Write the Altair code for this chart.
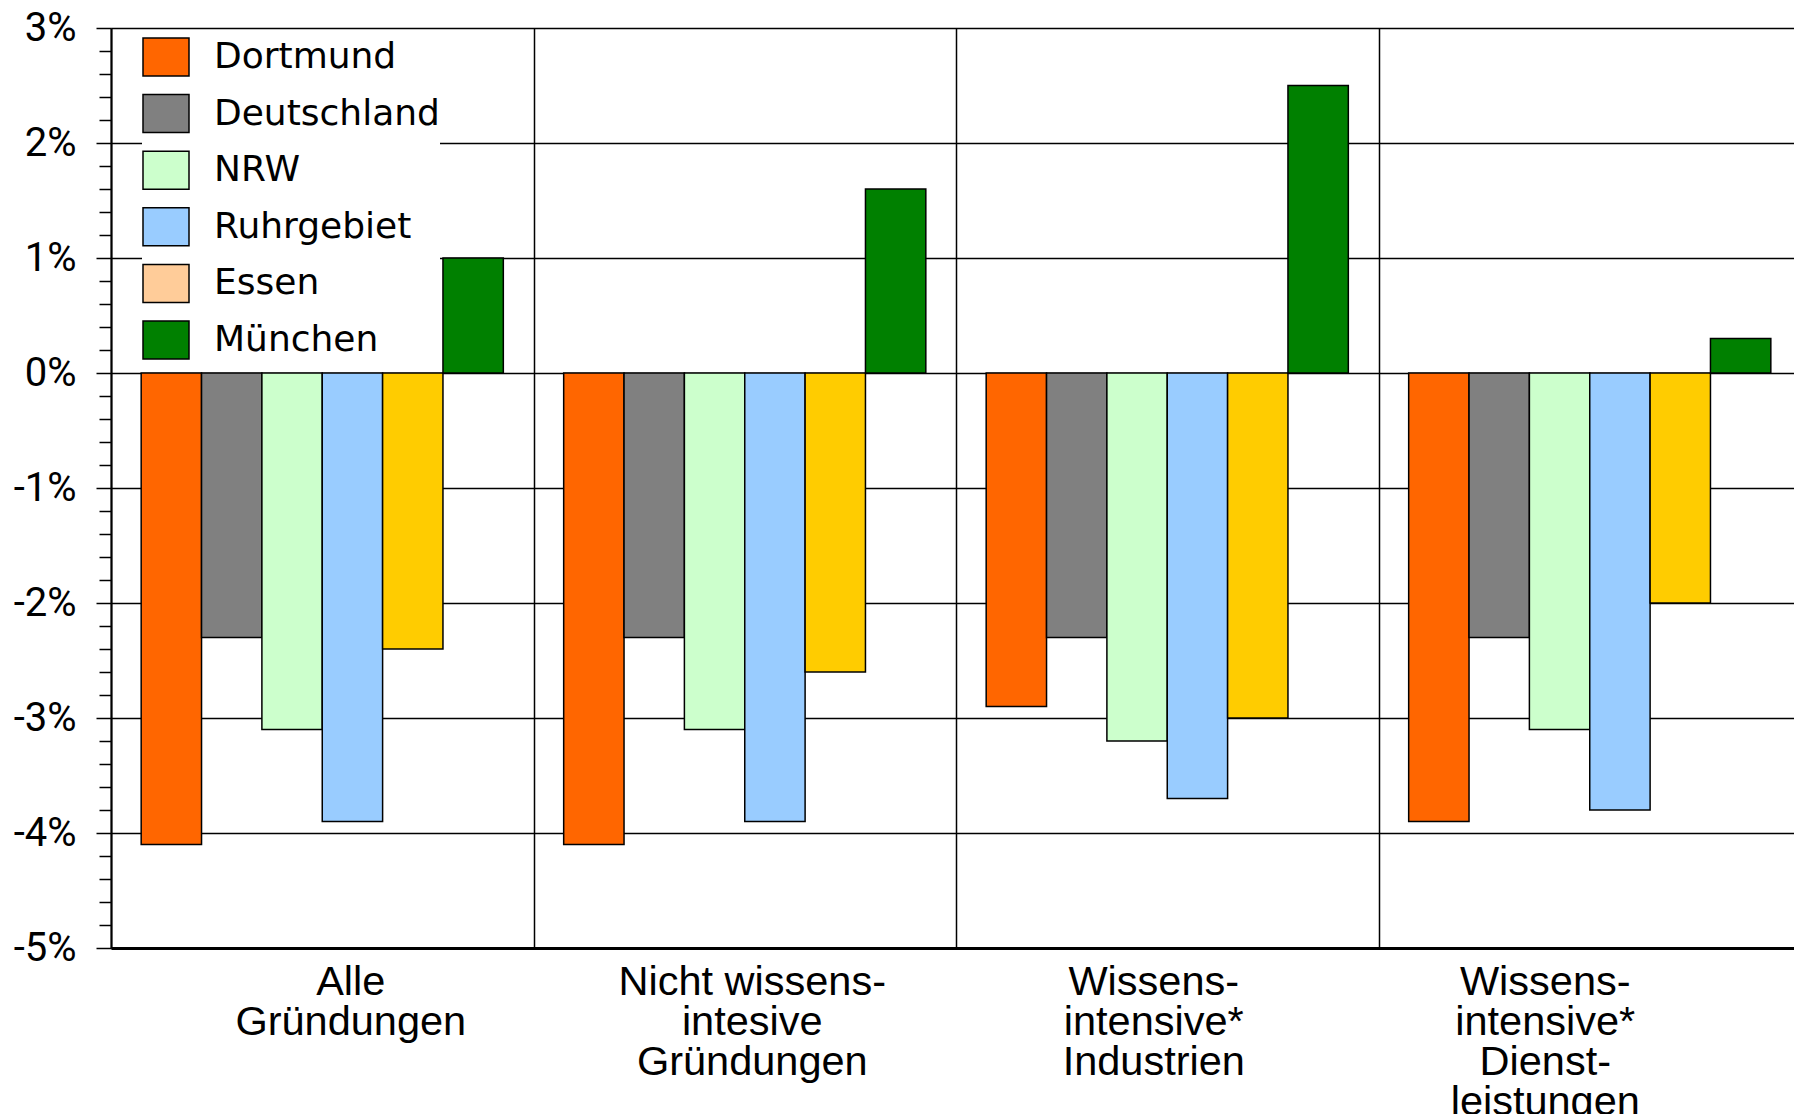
import altair as alt
import pandas as pd

# Categories (line breaks marked with "|") and the six regions compared
categories = [
    "Alle|Gründungen",
    "Nicht wissens-|intesive|Gründungen",
    "Wissens-|intensive*|Industrien",
    "Wissens-|intensive*|Dienst-|leistungen",
]
series = ["Dortmund", "Deutschland", "NRW", "Ruhrgebiet", "Essen", "München"]

# Change in start-ups, in percent, per category
dortmund = [-4.1, -4.1, -2.9, -3.9]
deutschland = [-2.3, -2.3, -2.3, -2.3]
nrw = [-3.1, -3.1, -3.2, -3.1]
ruhrgebiet = [-3.9, -3.9, -3.7, -3.8]
essen = [-2.4, -2.6, -3.0, -2.0]
muenchen = [1.0, 1.6, 2.5, 0.3]

bar_colors = ["#FF6600", "#808080", "#CCFFCC", "#99CCFF", "#FFCC00", "#008000"]
legend_colors = ["#FF6600", "#808080", "#CCFFCC", "#99CCFF", "#FFCC99", "#008000"]

values_by_series = [dortmund, deutschland, nrw, ruhrgebiet, essen, muenchen]
rows = []
for name, vals in zip(series, values_by_series):
    for cat, v in zip(categories, vals):
        rows.append({"category": cat, "series": name, "value": v})
df = pd.DataFrame(rows)

# horizontal nudges for the category labels
label_shift = {categories[0]: 28, categories[1]: 7, categories[2]: -14, categories[3]: -45}
label_offset = {
    "condition": [
        {"test": f"datum.value == '{c}'", "value": s} for c, s in label_shift.items()
    ],
    "value": 0,
}

major = "abs(datum.value - round(datum.value)) < 0.001"
y_ticks = [round(-5 + 0.2 * i, 1) for i in range(41)]

x_enc = alt.X(
    "category:N",
    sort=categories,
    scale=alt.Scale(paddingInner=0, paddingOuter=0),
    axis=alt.Axis(
        title=None,
        labelAngle=0,
        ticks=False,
        tickBand="extent",
        domain=True,
        domainColor="black",
        domainWidth=3,
        grid=True,
        gridColor="black",
        gridWidth=1.5,
        labelExpr="split(datum.label, '|')",
        labelFont="Liberation Sans",
        labelFontSize=41.5,
        labelLineHeight=40,
        labelAlign="center",
        labelBaseline="top",
        labelPadding=13,
        labelColor="black",
        labelLimit=500,
        labelOverlap=False,
        labelOffset=label_offset,
    ),
)
x_off = alt.XOffset(
    "series:N", sort=series, scale=alt.Scale(paddingInner=0, paddingOuter=0.5)
)
y_scale = alt.Scale(domain=[-5, 3], nice=False, zero=False)

bars = (
    alt.Chart(df)
    .mark_bar(stroke="black", strokeWidth=1.5)
    .encode(
        x=x_enc,
        xOffset=x_off,
        y=alt.Y(
            "value:Q",
            scale=y_scale,
            axis=alt.Axis(
                title=None,
                values=y_ticks,
                tickCount=60,
                domain=True,
                domainColor="black",
                domainWidth=2,
                ticks=True,
                tickColor="black",
                tickWidth=1.5,
                tickSize={"condition": {"test": major, "value": 15}, "value": 12},
                labelExpr=f"{major} ? round(datum.value) + '%' : ''",
                labelFont="Roboto",
                labelFontSize=40,
                labelPadding=20,
                labelColor="black",
                labelOverlap=False,
                labelFlush=False,
                labelBaseline="middle",
                grid=True,
                gridColor="black",
                gridWidth=1.5,
                gridOpacity={"condition": {"test": major, "value": 1}, "value": 0},
            ),
        ),
        y2=alt.datum(0),
        fill=alt.Fill(
            "series:N",
            scale=alt.Scale(domain=series, range=bar_colors),
            legend=None,
        ),
    )
)

# flat bars that only carry the legend colours
legend_layer = (
    alt.Chart(df)
    .mark_bar(strokeWidth=0)
    .encode(
        x=alt.X("category:N", sort=categories),
        xOffset=alt.XOffset("series:N", sort=series),
        y=alt.datum(0),
        y2=alt.datum(0),
        color=alt.Color(
            "series:N",
            scale=alt.Scale(domain=series, range=legend_colors),
            legend=alt.Legend(
                title=None,
                orient="none",
                legendX=31,
                legendY=5,
                padding=0,
                fillColor="white",
                symbolType="M-1,-0.826H1V0.826H-1Z",
                symbolSize=2116,
                symbolStrokeColor="black",
                symbolStrokeWidth=1.5,
                labelFont="DejaVu Sans",
                labelFontSize=36,
                labelColor="black",
                labelOffset=24,
                labelLimit=400,
                rowPadding=10.6,
            ),
        ),
    )
)

chart = (
    alt.layer(legend_layer, bars)
    .properties(
        width=1690,
        height=920,
        padding={"left": 111, "top": 28, "right": -7, "bottom": 166},
        autosize=alt.AutoSizeParams(type="none"),
        background="white",
    )
    .configure_view(stroke=None)
)

chart.save("out.html", embed_options={"renderer": "svg", "actions": False})
